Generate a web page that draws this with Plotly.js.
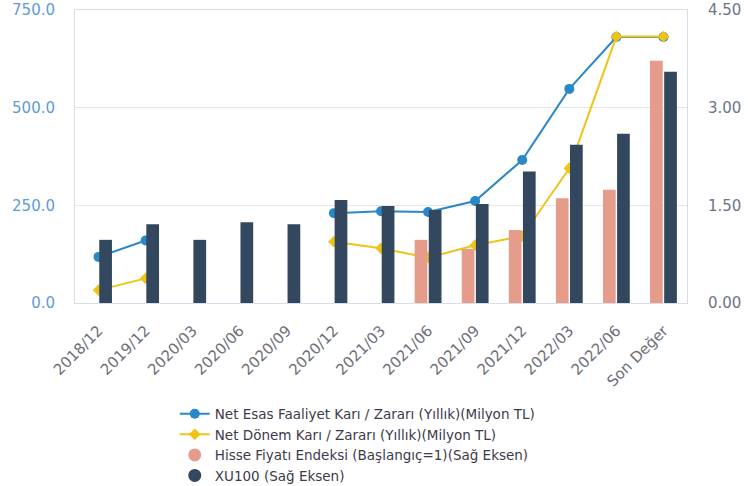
<!DOCTYPE html>
<html>
<head>
<meta charset="utf-8">
<script src="https://cdn.plot.ly/plotly-3.0.1.min.js"></script>
<style>
html,body{margin:0;padding:0;background:#fff;}
#chart{width:748px;height:486px;}
</style>
</head>
<body>
<div id="chart"></div>
<script>
const categories = ["2018/12","2019/12","2020/03","2020/06","2020/09","2020/12","2021/03","2021/06","2021/09","2021/12","2022/03","2022/06","Son Değer"];
const netEsas = [118, 160, null, null, null, 230, 235, 233, 261, 366, 548, 681, 681];
const netDonem = [33, 63, null, null, null, 157, 140, 116, 148, 171, 345, 682, 682];
const hisse = [null, null, null, null, null, null, null, 0.97, 0.83, 1.12, 1.61, 1.74, 3.72];
const xu100 = [0.97, 1.21, 0.97, 1.24, 1.21, 1.58, 1.49, 1.43, 1.52, 2.02, 2.43, 2.60, 3.55];
const leftTicks = [0, 250, 500, 750];
const rightTicks = [0, 1.5, 3, 4.5];

const nameEsas = 'Net Esas Faaliyet Karı / Zararı (Yıllık)(Milyon TL)';
const nameDonem = 'Net Dönem Karı / Zararı (Yıllık)(Milyon TL)';
const nameHisse = 'Hisse Fiyatı Endeksi (Başlangıç=1)(Sağ Eksen)';
const nameXu = 'XU100 (Sağ Eksen)';
const cEsas = '#2a87c8', cDonem = '#efc417', cHisse = '#e59c8a', cXu = '#33475e';

const traces = [
  {type:'bar', x:categories, y:hisse, yaxis:'y2', name:nameHisse, marker:{color:cHisse}, showlegend:false},
  {type:'bar', x:categories, y:xu100, yaxis:'y2', name:nameXu, marker:{color:cXu}, showlegend:false},
  {type:'scatter', mode:'lines+markers', x:categories, y:netEsas, name:nameEsas,
   line:{color:cEsas, width:2}, marker:{symbol:'circle', size:10, color:cEsas}, connectgaps:false, legendrank:1},
  {type:'scatter', mode:'lines+markers', x:categories, y:netDonem, name:nameDonem,
   line:{color:cDonem, width:2}, marker:{symbol:'diamond', size:9, color:cDonem}, connectgaps:false, legendrank:2},
  // legend-only entries so bar series show round swatches as in the reference
  {type:'scatter', mode:'markers', x:[null], y:[null], yaxis:'y2', name:nameHisse,
   marker:{symbol:'circle', size:13, color:cHisse}, legendrank:3, hoverinfo:'skip'},
  {type:'scatter', mode:'markers', x:[null], y:[null], yaxis:'y2', name:nameXu,
   marker:{symbol:'circle', size:13, color:cXu}, legendrank:4, hoverinfo:'skip'}
];

const layout = {
  width:748, height:486,
  margin:{l:75, r:61, t:10, b:183},
  paper_bgcolor:'#fff', plot_bgcolor:'#fff',
  font:{family:'DejaVu Sans, sans-serif', size:15, color:'#444'},
  barmode:'group', bargap:0.4, bargroupgap:0.1,
  showlegend:true,
  legend:{orientation:'v', xref:'paper', x:0.163, xanchor:'left', yref:'container', y:0.18, yanchor:'top',
    font:{size:13.5, color:'#3e3a4a'}, itemwidth:30, tracegroupgap:0, traceorder:'normal', bgcolor:'rgba(0,0,0,0)'},
  xaxis:{type:'category', range:[-0.5, 12.5], autorange:false, tickangle:-45, tickfont:{size:15, color:'#6e6e78'}, showgrid:false,
    showline:true, linecolor:'#d6deec', linewidth:1, mirror:true, zeroline:false,
    ticks:'outside', ticklen:12, tickcolor:'rgba(0,0,0,0)'},
  yaxis:{range:[0,750], autorange:false, tickvals:leftTicks, ticktext:leftTicks.map(v=>v.toFixed(1)),
    tickfont:{size:15, color:'#5f9bd6'}, showgrid:true, gridcolor:'#e6e6e6', gridwidth:1,
    showline:true, linecolor:'#d6deec', mirror:true, zeroline:false, ticks:'outside', ticklen:16, tickcolor:'rgba(0,0,0,0)'},
  yaxis2:{range:[0,4.5], autorange:false, overlaying:'y', side:'right', tickvals:rightTicks, ticktext:rightTicks.map(v=>v.toFixed(2)),
    tickfont:{size:15, color:'#6d7488'}, showgrid:false, zeroline:false, showline:false,
    ticks:'outside', ticklen:17, tickcolor:'rgba(0,0,0,0)'}
};

Plotly.newPlot('chart', traces, layout, {displayModeBar:false, staticPlot:true});
</script>
</body>
</html>
